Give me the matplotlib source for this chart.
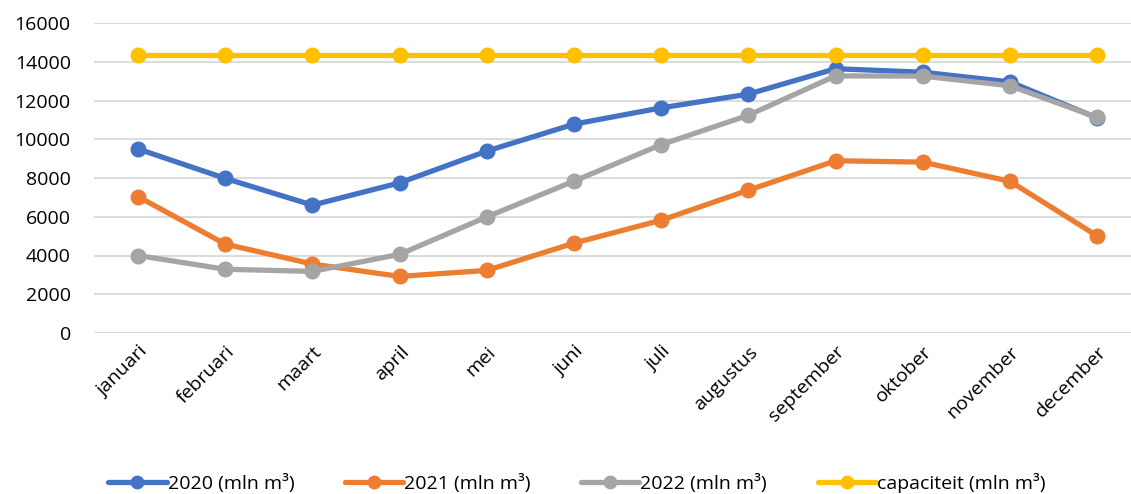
import matplotlib.pyplot as plt

plt.rcParams['font.family'] = ['Open Sans', 'DejaVu Sans']

maanden = ["januari", "februari", "maart", "april", "mei", "juni", "juli",
           "augustus", "september", "oktober", "november", "december"]
v2020 = [9500, 7980, 6600, 7750, 9390, 10780, 11620, 12330, 13640, 13460, 12960, 11100]
v2021 = [7040, 4590, 3560, 2920, 3230, 4640, 5820, 7370, 8890, 8820, 7830, 5010]
v2022 = [4000, 3290, 3180, 4060, 5990, 7840, 9720, 11240, 13270, 13260, 12760, 11130]
capaciteit = [14330] * 12

reeksen = [
    ("2020 (mln m³)", v2020, "#4472C4"),
    ("2021 (mln m³)", v2021, "#ED7D31"),
    ("2022 (mln m³)", v2022, "#A5A5A5"),
    ("capaciteit (mln m³)", capaciteit, "#FFC000"),
]

fig = plt.figure(figsize=(11.31, 4.94), dpi=100)
ax = fig.add_axes([94.4 / 1131, 161 / 494, 1046.4 / 1131, 310 / 494])

x = list(range(len(maanden)))
for naam, waarden, kleur in reeksen:
    ax.plot(x, waarden, color=kleur, lw=3.8, marker="o", markersize=10.5,
            label=naam, solid_capstyle="round", solid_joinstyle="round")

ax.set_xlim(-0.5, 11.5)
ax.set_ylim(0, 16000)
ax.set_yticks(range(0, 16001, 2000))
ax.grid(axis="y", color="#D9D9D9", lw=1.3)
ax.set_axisbelow(True)
for s in ax.spines.values():
    s.set_visible(False)
ax.tick_params(axis="both", length=0, labelsize=14, colors="#000000")
ax.tick_params(axis="y", pad=17)
ax.set_xticks(x)
ax.set_xticklabels(maanden, rotation=45, ha="right", va="top",
                   rotation_mode="anchor")
ax.tick_params(axis="x", pad=7)

fig.legend(loc="center", bbox_to_anchor=(0.51, 0.022), ncol=4, frameon=False,
           fontsize=14, handlelength=3.0, handletextpad=0.05,
           columnspacing=2.6, borderaxespad=0, markerscale=0.85)

fig.savefig("out.png", dpi=100)
